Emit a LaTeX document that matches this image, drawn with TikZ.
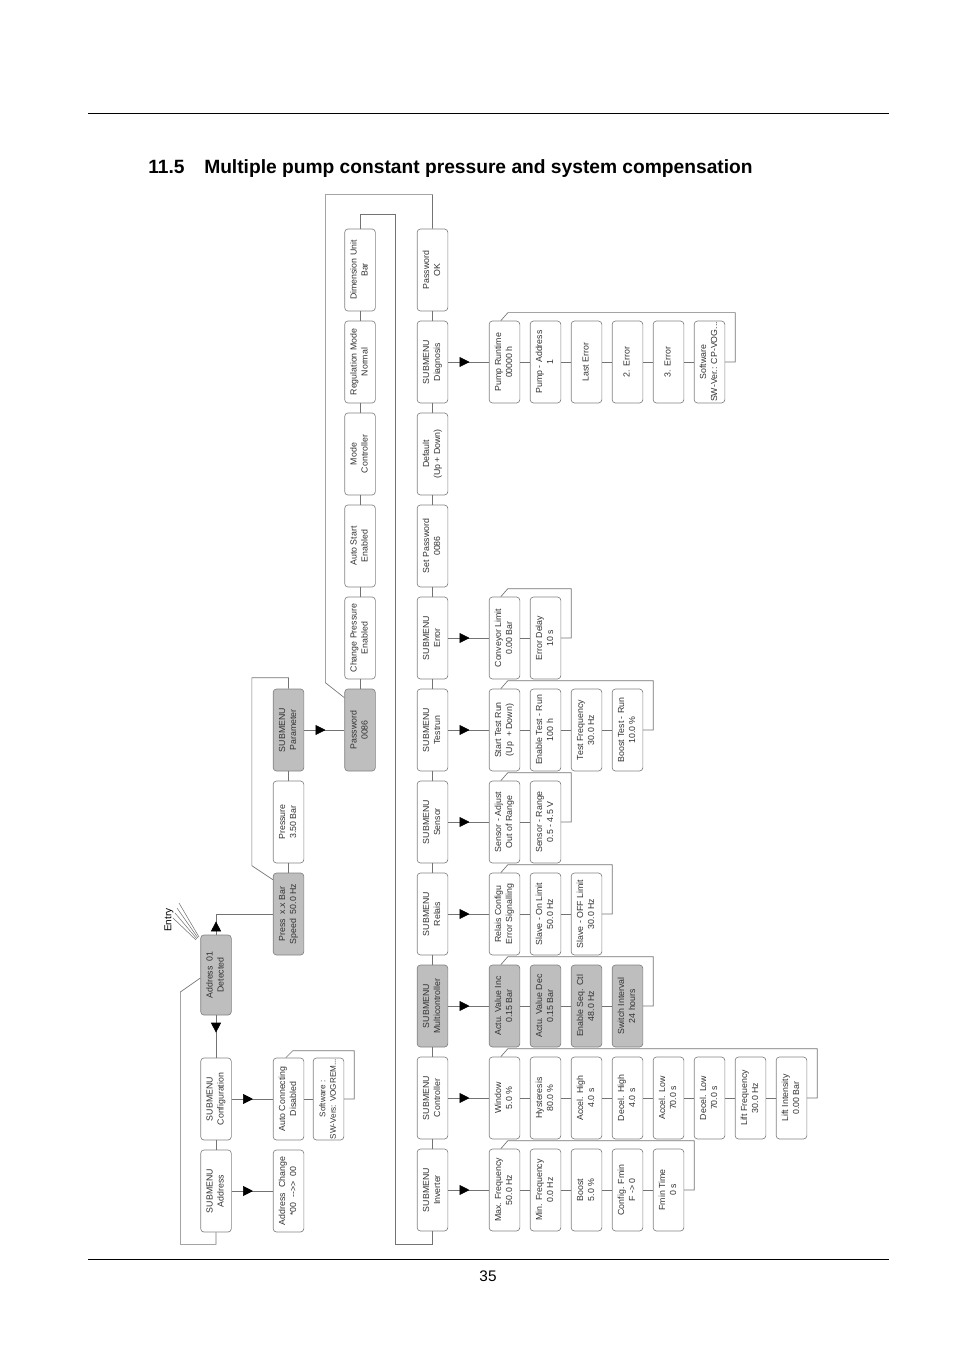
\documentclass[tikz,border=0pt]{standalone}
\usepackage{fontspec}
\setmainfont{Liberation Sans}
\usepackage{graphicx}
\usetikzlibrary{arrows.meta,calc,decorations.markings}

\definecolor{boxline}{RGB}{130,130,130}
\definecolor{boxgray}{RGB}{190,190,190}
\definecolor{linegray}{RGB}{115,115,115}
\definecolor{textgray}{RGB}{50,50,50}

\newcommand{\boxfont}{\fontsize{6.6}{8.2}\selectfont\color{textgray}}
\newcommand{\vt}[1]{\rotatebox{90}{\begin{tabular}{@{}c@{}}#1\end{tabular}}}

\begin{document}
\begin{tikzpicture}[x=0.75pt,y=0.75pt,yscale=-1,xscale=1,
    box/.style={draw=boxline,rounded corners=2.5pt,line width=0.5pt,minimum width=23pt,minimum height=61.5pt,inner sep=0pt,font=\boxfont},
    selbox/.style={box,fill=boxgray},
    link/.style={draw=linegray,line width=0.5pt},
    go/.style={link,postaction={decorate},decoration={markings,mark=at position #1 with {\arrow{Triangle[length=7.5pt,width=7.5pt,color=black]}}}},
    go/.default=16pt]
    \useasboundingbox (0,0) rectangle (954,1351);

    %page rules, title and number
    \draw [line width=0.6pt] (88,113) -- (889,113) ;
    \draw [line width=0.6pt] (88,1259) -- (889,1259) ;
    \node [anchor=base west,inner sep=0pt,font=\fontsize{14.4}{17}\selectfont\bfseries] (secno) at (148,174) {11.5};
    \node [anchor=base west,inner sep=0pt,font=\fontsize{14.4}{17}\selectfont\bfseries] (title) at (204,174) {Multiple pump constant pressure and system compensation};
    \node [anchor=base,font=\fontsize{11.5}{14}\selectfont] (pageno) at (488,1281) {35};

    %Entry
    \node [rotate=90,font=\fontsize{7.5}{9}\selectfont] (entry) at (169,920) {Entry};
    \draw [link,line width=0.4pt] (179,903) -- (199,937) ;
    \draw [link,line width=0.4pt] (177,908) -- (198,938) ;
    \draw [link,line width=0.4pt] (175,913) -- (197,939) ;
    \draw [link,line width=0.4pt] (173,918) -- (196,940) ;

    %first column
    \node [selbox,minimum height=60pt] (det) at (216,975) {\vt{Address \ 01\\Detected}};
    \node [box] (conf) at (216,1099) {\vt{SUBMENU\\Configuration}};
    \node [box] (addr) at (216,1191) {\vt{SUBMENU\\Address}};
    \node [box] (achg) at (288.5,1191) {\vt{Address \ Change\\{*}00 \ -{}->{}> \ 00}};
    \node [box] (aconn) at (288.5,1099) {\vt{Auto Connecting\\Disabled}};
    \node [box,font=\fontsize{6.1}{7.8}\selectfont\color{textgray}] (sw) at (328.5,1099) {\vt{Software :\\SW-Vers: VOGREM...}};

    %second column
    \node [selbox] (press) at (288.5,914) {\vt{Press \ x.x Bar\\Speed \ 50.0 Hz}};
    \node [box] (pres) at (288.5,822) {\vt{Pressure\\3.50 Bar}};
    \node [selbox] (par) at (288.5,730) {\vt{SUBMENU\\Parameter}};

    %third column
    \node [selbox] (pw) at (360,730) {\vt{Password\\0086}};
    \node [box] (chp) at (360,638) {\vt{Change Pressure\\Enabled}};
    \node [box] (ast) at (360,546) {\vt{Auto Start\\Enabled}};
    \node [box] (mode) at (360,454) {\vt{Mode\\Controller}};
    \node [box] (reg) at (360,362) {\vt{Regulation Mode\\Normal}};
    \node [box] (dim) at (360,270) {\vt{Dimension Unit\\Bar}};

    %fourth column
    \node [box] (pwok) at (432.5,270) {\vt{Password\\OK}};
    \node [box] (diag) at (432.5,362) {\vt{SUBMENU\\Diagnosis}};
    \node [box] (dflt) at (432.5,454) {\vt{Default\\(Up + Down)}};
    \node [box] (setpw) at (432.5,546) {\vt{Set Password\\0086}};
    \node [box] (err) at (432.5,638) {\vt{SUBMENU\\Error}};
    \node [box] (test) at (432.5,730) {\vt{SUBMENU\\Testrun}};
    \node [box] (sens) at (432.5,822) {\vt{SUBMENU\\Sensor}};
    \node [box] (rel) at (432.5,914) {\vt{SUBMENU\\Relais}};
    \node [selbox] (multi) at (432.5,1006) {\vt{SUBMENU\\Multicontroller}};
    \node [box] (ctrl) at (432.5,1098) {\vt{SUBMENU\\Controller}};
    \node [box] (inv) at (432.5,1190) {\vt{SUBMENU\\Inverter}};

    %diagnosis row
    \node [box] (diag1) at (504.5,362) {\vt{Pump Runtime\\00000 h}};
    \node [box] (diag2) at (545.5,362) {\vt{Pump - Address\\1}};
    \node [box] (diag3) at (586.5,362) {\vt{Last Error}};
    \node [box] (diag4) at (627.5,362) {\vt{2. Error}};
    \node [box] (diag5) at (668.5,362) {\vt{3. Error}};
    \node [box] (diag6) at (709.5,362) {\vt{Software\\SW-Ver.: CP-VOG...}};

    %error row
    \node [box] (err1) at (504.5,638) {\vt{Conveyor Limit\\0.00 Bar}};
    \node [box] (err2) at (545.5,638) {\vt{Error Delay\\10 s}};

    %testrun row
    \node [box] (test1) at (504.5,730) {\vt{Start Test Run\\(Up \ + Down)}};
    \node [box] (test2) at (545.5,730) {\vt{Enable Test - Run\\100 h}};
    \node [box] (test3) at (586.5,730) {\vt{Test Frequency\\30.0 Hz}};
    \node [box] (test4) at (627.5,730) {\vt{Boost Test - Run\\10.0 \%}};

    %sensor row
    \node [box] (sens1) at (504.5,822) {\vt{Sensor - Adjust\\Out of Range}};
    \node [box] (sens2) at (545.5,822) {\vt{Sensor - Range\\0.5 - 4.5 V}};

    %relais row
    \node [box] (rel1) at (504.5,914) {\vt{Relais Configu\\Error Signalling}};
    \node [box] (rel2) at (545.5,914) {\vt{Slave - On Limit\\50.0 Hz}};
    \node [box] (rel3) at (586.5,914) {\vt{Slave - OFF Limit\\30.0 Hz}};

    %multicontroller row
    \node [selbox] (multi1) at (504.5,1006) {\vt{Actu. Value Inc\\0.15 Bar}};
    \node [selbox] (multi2) at (545.5,1006) {\vt{Actu. Value Dec\\0.15 Bar}};
    \node [selbox] (multi3) at (586.5,1006) {\vt{Enable Seq. Ctl\\48.0 Hz}};
    \node [selbox] (multi4) at (627.5,1006) {\vt{Switch Interval\\24 hours}};

    %controller row
    \node [box] (ctrl1) at (504.5,1098) {\vt{Window\\5.0 \%}};
    \node [box] (ctrl2) at (545.5,1098) {\vt{Hysteresis\\80.0 \%}};
    \node [box] (ctrl3) at (586.5,1098) {\vt{Accel. High\\4.0 s}};
    \node [box] (ctrl4) at (627.5,1098) {\vt{Decel. High\\4.0 s}};
    \node [box] (ctrl5) at (668.5,1098) {\vt{Accel. Low\\70.0 s}};
    \node [box] (ctrl6) at (709.5,1098) {\vt{Decel. Low\\70.0 s}};
    \node [box] (ctrl7) at (750.5,1098) {\vt{Lift Frequency\\30.0 Hz}};
    \node [box] (ctrl8) at (791.5,1098) {\vt{Lift Intensity\\0.00 Bar}};

    %inverter row
    \node [box] (inv1) at (504.5,1190) {\vt{Max. Frequency\\50.0 Hz}};
    \node [box] (inv2) at (545.5,1190) {\vt{Min. Frequency\\0.0 Hz}};
    \node [box] (inv3) at (586.5,1190) {\vt{Boost\\5.0 \%}};
    \node [box] (inv4) at (627.5,1190) {\vt{Config. Fmin\\F -{}> 0}};
    \node [box] (inv5) at (668.5,1190) {\vt{Fmin Time\\0 s}};

    %links in the first two columns
    \draw [go=10pt] (det.north) |- (press.west) ;
    \draw [go=13pt] (det.south) -- (conf.north) ;
    \draw [link] (conf.south) -- (addr.north) ;
    \draw [go] (addr.east) -- (achg.west) ;
    \draw [go] (conf.east) -- (aconn.west) ;
    \draw [link] (aconn.east) -- (sw.west) ;
    \draw [link] (sw.east) -- ++(10,0) |- ($(aconn.north west)+(20,-7)$) -- ($(aconn.north west)+(13,0)$) ;
    \draw [link] (addr.south) -- ++(0,12) -| ($(det.west)+(-20,17)$) -- ($(det.west)+(0,3)$) ;
    \draw [link] (press.north) -- (pres.south) ;
    \draw [link] (pres.north) -- (par.south) ;
    \draw [link] (par.north) -- ++(0,-11) -| ($(press.north west)+(-21,-7)$) -- ($(press.north west)+(0,7)$) ;
    \draw [go] (par.east) -- (pw.west) ;

    %links in the third column
    \draw [link] (pw.north) -- (chp.south) ;
    \draw [link] (chp.north) -- (ast.south) ;
    \draw [link] (ast.north) -- (mode.south) ;
    \draw [link] (mode.north) -- (reg.south) ;
    \draw [link] (reg.north) -- (dim.south) ;
    \draw [link] (dim.north) -- ++(0,-14) -| ($(inv.south)+(-37,13)$) -| (inv.south) ;

    %links in the fourth column
    \draw [link] (inv.north) -- (ctrl.south) ;
    \draw [link] (ctrl.north) -- (multi.south) ;
    \draw [link] (multi.north) -- (rel.south) ;
    \draw [link] (rel.north) -- (sens.south) ;
    \draw [link] (sens.north) -- (test.south) ;
    \draw [link] (test.north) -- (err.south) ;
    \draw [link] (err.north) -- (setpw.south) ;
    \draw [link] (setpw.north) -- (dflt.south) ;
    \draw [link] (dflt.north) -- (diag.south) ;
    \draw [link] (diag.north) -- (pwok.south) ;
    \draw [link] (pwok.north) -- ++(0,-34) -| ($(pw.north west)+(-19,-6)$) -- ($(pw.north west)+(0,9)$) ;

    %diagnosis row links
    \draw [go] (diag.east) -- (diag1.west) ;
    \draw [link] (diag1.east) -- (diag2.west) ;
    \draw [link] (diag2.east) -- (diag3.west) ;
    \draw [link] (diag3.east) -- (diag4.west) ;
    \draw [link] (diag4.east) -- (diag5.west) ;
    \draw [link] (diag5.east) -- (diag6.west) ;
    \draw [link] (diag6.east) -- ++(10,0) |- ($(diag1.north west)+(19,-8)$) -- ($(diag1.north west)+(12,0)$) ;

    %error row links
    \draw [go] (err.east) -- (err1.west) ;
    \draw [link] (err1.east) -- (err2.west) ;
    \draw [link] (err2.east) -- ++(10,0) |- ($(err1.north west)+(19,-8)$) -- ($(err1.north west)+(12,0)$) ;

    %testrun row links
    \draw [go] (test.east) -- (test1.west) ;
    \draw [link] (test1.east) -- (test2.west) ;
    \draw [link] (test2.east) -- (test3.west) ;
    \draw [link] (test3.east) -- (test4.west) ;
    \draw [link] (test4.east) -- ++(10,0) |- ($(test1.north west)+(19,-8)$) -- ($(test1.north west)+(12,0)$) ;

    %sensor row links
    \draw [go] (sens.east) -- (sens1.west) ;
    \draw [link] (sens1.east) -- (sens2.west) ;
    \draw [link] (sens2.east) -- ++(10,0) |- ($(sens1.north west)+(19,-8)$) -- ($(sens1.north west)+(12,0)$) ;

    %relais row links
    \draw [go] (rel.east) -- (rel1.west) ;
    \draw [link] (rel1.east) -- (rel2.west) ;
    \draw [link] (rel2.east) -- (rel3.west) ;
    \draw [link] (rel3.east) -- ++(10,0) |- ($(rel1.north west)+(19,-8)$) -- ($(rel1.north west)+(12,0)$) ;

    %multicontroller row links
    \draw [go] (multi.east) -- (multi1.west) ;
    \draw [link] (multi1.east) -- (multi2.west) ;
    \draw [link] (multi2.east) -- (multi3.west) ;
    \draw [link] (multi3.east) -- (multi4.west) ;
    \draw [link] (multi4.east) -- ++(10,0) |- ($(multi1.north west)+(19,-8)$) -- ($(multi1.north west)+(12,0)$) ;

    %controller row links
    \draw [go] (ctrl.east) -- (ctrl1.west) ;
    \draw [link] (ctrl1.east) -- (ctrl2.west) ;
    \draw [link] (ctrl2.east) -- (ctrl3.west) ;
    \draw [link] (ctrl3.east) -- (ctrl4.west) ;
    \draw [link] (ctrl4.east) -- (ctrl5.west) ;
    \draw [link] (ctrl5.east) -- (ctrl6.west) ;
    \draw [link] (ctrl6.east) -- (ctrl7.west) ;
    \draw [link] (ctrl7.east) -- (ctrl8.west) ;
    \draw [link] (ctrl8.east) -- ++(10,0) |- ($(ctrl1.north west)+(19,-8)$) -- ($(ctrl1.north west)+(12,0)$) ;

    %inverter row links
    \draw [go] (inv.east) -- (inv1.west) ;
    \draw [link] (inv1.east) -- (inv2.west) ;
    \draw [link] (inv2.east) -- (inv3.west) ;
    \draw [link] (inv3.east) -- (inv4.west) ;
    \draw [link] (inv4.east) -- (inv5.west) ;
    \draw [link] (inv5.east) -- ++(10,0) |- ($(inv1.north west)+(19,-8)$) -- ($(inv1.north west)+(12,0)$) ;

\end{tikzpicture}
\end{document}
